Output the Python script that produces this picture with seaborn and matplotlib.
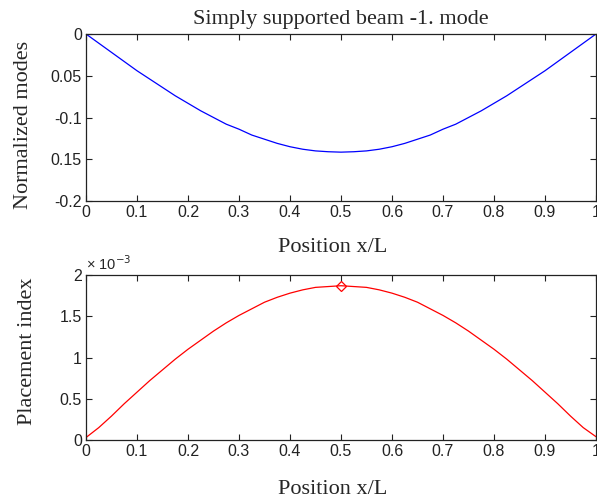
import numpy as np
import pandas as pd
import matplotlib
matplotlib.use('Agg')
import matplotlib.pyplot as plt
import seaborn as sns

# values
position = [0.0, 0.025, 0.05, 0.075, 0.1, 0.125, 0.15, 0.175, 0.2, 0.225, 0.25,
            0.275, 0.3, 0.325, 0.35, 0.375, 0.4, 0.425, 0.45, 0.475, 0.5,
            0.525, 0.55, 0.575, 0.6, 0.625, 0.65, 0.675, 0.7, 0.725, 0.75,
            0.775, 0.8, 0.825, 0.85, 0.875, 0.9, 0.925, 0.95, 0.975, 1.0]
mode_1 = [0.0, -0.011, -0.022, -0.033, -0.044, -0.054, -0.064, -0.074, -0.083, -0.092, -0.100,
          -0.108, -0.114, -0.121, -0.126, -0.131, -0.135, -0.138, -0.140, -0.141, -0.1415,
          -0.141, -0.140, -0.138, -0.135, -0.131, -0.126, -0.121, -0.114, -0.108, -0.100,
          -0.092, -0.083, -0.074, -0.064, -0.054, -0.044, -0.033, -0.022, -0.011, 0.0]
placement = [0.03e-3, 0.15e-3, 0.29e-3, 0.44e-3, 0.58e-3, 0.72e-3, 0.85e-3, 0.98e-3, 1.10e-3, 1.21e-3, 1.32e-3,
             1.42e-3, 1.51e-3, 1.59e-3, 1.67e-3, 1.73e-3, 1.78e-3, 1.82e-3, 1.85e-3, 1.86e-3, 1.87e-3,
             1.86e-3, 1.85e-3, 1.82e-3, 1.78e-3, 1.73e-3, 1.67e-3, 1.59e-3, 1.51e-3, 1.42e-3, 1.32e-3,
             1.21e-3, 1.10e-3, 0.98e-3, 0.85e-3, 0.72e-3, 0.58e-3, 0.44e-3, 0.29e-3, 0.15e-3, 0.04e-3]

x_ticks = [0, 0.1, 0.2, 0.3, 0.4, 0.5, 0.6, 0.7, 0.8, 0.9, 1]
x_labels = ['0', '0.1', '0.2', '0.3', '0.4', '0.5', '0.6', '0.7', '0.8', '0.9', '1']
top_yticks = [0, -0.05, -0.1, -0.15, -0.2]
top_ylabels = ['0', '0.05', '-0.1', '0.15', '-0.2']
bot_yticks = [0, 0.5e-3, 1e-3, 1.5e-3, 2e-3]
bot_ylabels = ['0', '0.5', '1', '1.5', '2']

df = pd.DataFrame({'x': position, 'mode': mode_1, 'placement': placement})

sns.set_style('ticks')
plt.rcParams['font.family'] = ['Liberation Sans', 'DejaVu Sans']
plt.rcParams['xtick.direction'] = 'in'
plt.rcParams['ytick.direction'] = 'in'
plt.rcParams['xtick.top'] = True
plt.rcParams['ytick.right'] = True

serif = ['Liberation Serif', 'DejaVu Serif']

fig = plt.figure(figsize=(5.97, 5.04), dpi=100)
ax1 = fig.add_axes([86 / 597, 1 - 201 / 504, 510 / 597, 167 / 504])
ax2 = fig.add_axes([86 / 597, 1 - 440 / 504, 510 / 597, 165 / 504])

sns.lineplot(data=df, x='x', y='mode', ax=ax1, color='#0000ff', linewidth=0.9)
sns.lineplot(data=df, x='x', y='placement', ax=ax2, color='#ff0000', linewidth=0.9)

# diamond on the maximum placement index
i_max = int(np.argmax(placement))
ax2.plot(position[i_max], placement[i_max], marker='D', markersize=5,
         markerfacecolor='none', markeredgecolor='#ff0000', markeredgewidth=0.9)

ax1.set_ylim(-0.2, 0)
ax1.set_yticks(top_yticks)
ax1.set_yticklabels(top_ylabels)
ax2.set_ylim(0, 2e-3)
ax2.set_yticks(bot_yticks)
ax2.set_yticklabels(bot_ylabels)

for ax in (ax1, ax2):
    ax.set_xlim(0, 1)
    ax.set_xticks(x_ticks)
    ax.set_xticklabels(x_labels)
    ax.tick_params(labelsize=11.5, length=4, width=0.8, colors='#222222', pad=3)
    for s in ax.spines.values():
        s.set_visible(True)
        s.set_linewidth(0.9)
        s.set_color('#222222')
    ax.set_xlabel('Position x/L', family=serif, fontsize=16)

ax1.set_ylabel('Normalized modes', family=serif, fontsize=16)
ax2.set_ylabel('Placement index', family=serif, fontsize=16)
ax1.xaxis.set_label_coords(0.484, -0.222)
ax2.xaxis.set_label_coords(0.484, -0.242)
ax1.yaxis.set_label_coords(-0.104, 0.455)
ax2.yaxis.set_label_coords(-0.096, 0.535)
ax1.set_title('Simply supported beam -1. mode', family=serif, fontsize=16, pad=7)

ax2.text(0.0, 1.015, '× 10$^{-3}$', transform=ax2.transAxes, fontsize=10.5,
         ha='left', va='bottom')

fig.savefig('out.png', dpi=100)
